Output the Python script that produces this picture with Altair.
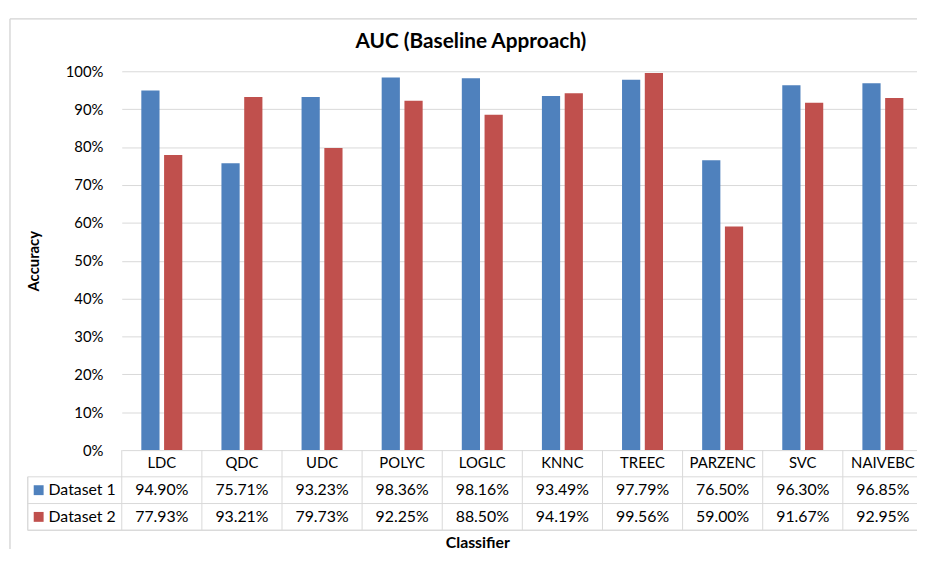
import pandas as pd
import altair as alt

classifiers = ["LDC", "QDC", "UDC", "POLYC", "LOGLC", "KNNC", "TREEC", "PARZENC", "SVC", "NAIVEBC"]
series_names = ["Dataset 1", "Dataset 2"]
dataset1 = [94.90, 75.71, 93.23, 98.36, 98.16, 93.49, 97.79, 76.50, 96.30, 96.85]
dataset2 = [77.93, 93.21, 79.73, 92.25, 88.50, 94.19, 99.56, 59.00, 91.67, 92.95]
colors = ["#4F81BD", "#C0504D"]

rows = []
for name, values in zip(series_names, [dataset1, dataset2]):
    for c, v in zip(classifiers, values):
        rows.append({"classifier": c, "series": name, "value": v / 100, "label": f"{v:.2f}%"})
df = pd.DataFrame(rows)

header_df = pd.DataFrame({"classifier": classifiers, "row": "header", "label": classifiers})
cells_df = df.rename(columns={"series": "row"})[["classifier", "row", "label"]]
legend_df = pd.DataFrame({"row": series_names})
one = pd.DataFrame({"t": ["Classifier"]})

FONT = "Lato"
W, H, ROW = 810, 383, 27
color_scale = alt.Scale(domain=series_names, range=colors)
band = alt.Scale(paddingInner=0, paddingOuter=0)
row_scale = alt.Scale(domain=["header"] + series_names, paddingInner=0, paddingOuter=0)

# bar chart
bars = (
    alt.Chart(df)
    .mark_bar()
    .encode(
        x=alt.X("classifier:N", sort=classifiers, scale=band, axis=None),
        xOffset=alt.XOffset("series:N", sort=series_names,
                            scale=alt.Scale(paddingInner=0.2, paddingOuter=0.86)),
        y=alt.Y(
            "value:Q",
            scale=alt.Scale(domain=[0, 1]),
            axis=alt.Axis(
                format="%",
                values=[i / 10 for i in range(11)],
                title="Accuracy",
                titleFontSize=15,
                titleFontWeight="bold",
                titlePadding=24,
                labelFontSize=15,
                labelPadding=19,
                labelColor="#000",
                titleColor="#000",
                domain=False,
                ticks=False,
                gridColor="#D9D9D9",
            ),
        ),
        color=alt.Color("series:N", scale=color_scale, legend=None),
    )
    .properties(
        width=W,
        height=H,
        title=alt.TitleParams("AUC (Baseline Approach)", fontSize=21, fontWeight="bold",
                              dx=-52, offset=13, color="#000"),
    )
)

# data table below the bars
tx = alt.X("classifier:N", sort=classifiers, scale=band, axis=None)
tx_edge = alt.X("classifier:N", sort=classifiers, scale=band, axis=None, bandPosition=0)
ty = alt.Y("row:N", scale=row_scale, axis=None)

header_text = alt.Chart(header_df).mark_text(fontSize=15, color="#000").encode(x=tx, y=ty, text="label:N")
cell_text = alt.Chart(cells_df).mark_text(fontSize=16, color="#000").encode(x=tx, y=ty, text="label:N")

row_labels = alt.Chart(legend_df).mark_text(fontSize=16, align="left", color="#000").encode(
    x=alt.value(-74), y=ty, text="row:N"
)
swatches = alt.Chart(legend_df).mark_square(size=100, opacity=1).encode(
    x=alt.value(-84), y=ty, color=alt.Color("row:N", scale=color_scale, legend=None)
)
x_title = alt.Chart(one).mark_text(
    fontSize=16, fontWeight="bold", color="#000", baseline="alphabetic"
).encode(x=alt.value(360), y=alt.value(99), text="t:N")

line_color = "#D9D9D9"
vlines = alt.Chart(pd.DataFrame({"classifier": classifiers})).mark_rule(color=line_color).encode(
    x=tx_edge, y=alt.value(0), y2=alt.value(3 * ROW),
)
left_line = alt.Chart(legend_df).mark_rule(color=line_color).encode(
    x=alt.value(-95), y=alt.value(ROW), y2=alt.value(3 * ROW)
)
hlines = alt.Chart(legend_df).mark_rule(color=line_color).encode(
    y=alt.Y("row:N", scale=row_scale, bandPosition=0, axis=None),
    x=alt.value(-95), x2=alt.value(W),
)
bottom_line = alt.Chart(legend_df).mark_rule(color=line_color).encode(
    y=alt.value(3 * ROW), x=alt.value(-95), x2=alt.value(W)
)

# outer chart-area border (left and top edges)
frame_left = alt.Chart(legend_df).mark_rule(color="#D9D9D9").encode(
    x=alt.value(-113), y=alt.value(-436), y2=alt.value(100)
)
frame_top = alt.Chart(legend_df).mark_rule(color="#D9D9D9").encode(
    y=alt.value(-436), x=alt.value(-113), x2=alt.value(W)
)

table = alt.layer(
    frame_left, frame_top, vlines, left_line, hlines, bottom_line,
    swatches, row_labels, header_text, cell_text, x_title
).properties(width=W, height=3 * ROW)

# the original picture cuts the chart at its right edge: negative right padding trims the last column
chart = (
    alt.vconcat(bars, table, spacing=0, bounds="flush")
    .resolve_scale(x="independent", y="independent", color="independent")
    .properties(padding={"left": 1, "top": 7, "right": -7, "bottom": -3})
    .configure(font=FONT)
    .configure_view(stroke=None)
)

chart.save("out.html", embed_options={"renderer": "svg", "actions": False})
